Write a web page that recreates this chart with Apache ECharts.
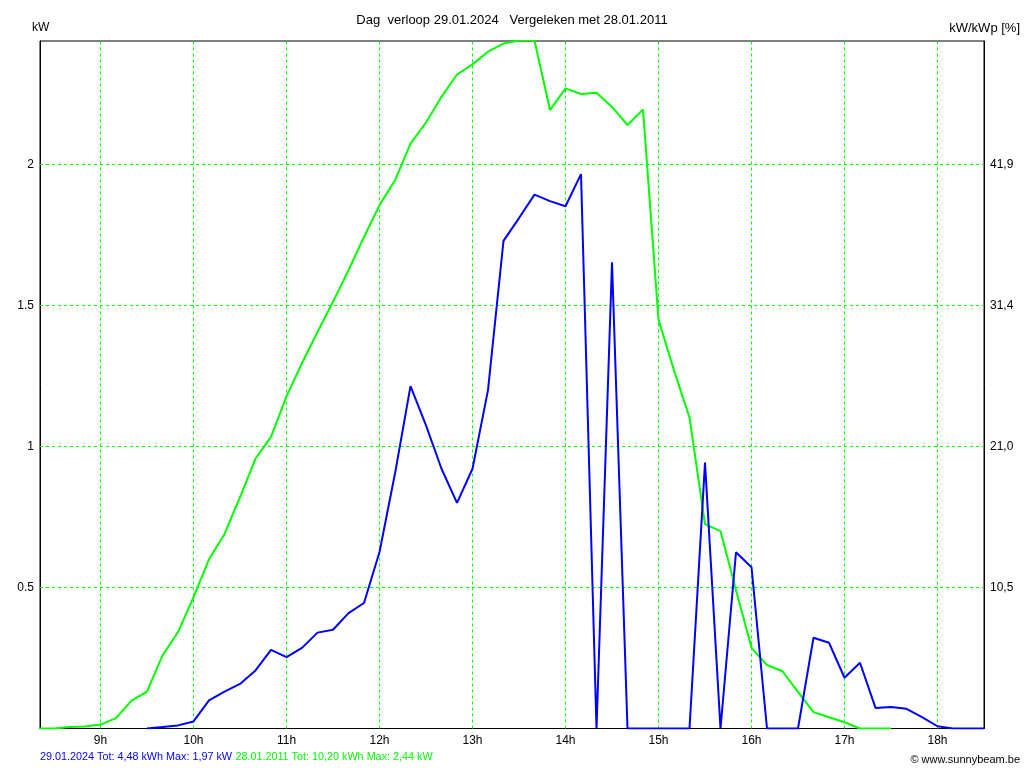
<!DOCTYPE html>
<html><head><meta charset="utf-8">
<script src="https://cdn.jsdelivr.net/npm/echarts@6/dist/echarts.min.js"></script>
<style>html,body{margin:0;padding:0;background:#fff}#c{width:1024px;height:768px}</style>
</head><body><div id="c"></div>
<script>
const hourTicks = [9, 10, 11, 12, 13, 14, 15, 16, 17, 18];
const kwTicks = [0.5, 1, 1.5, 2];
const pctLabels = ['10,5', '21,0', '31,4', '41,9'];

const greenTimes = ['8:20','8:30','8:40','8:50','9:00','9:10','9:20','9:30','9:40','9:50',
  '10:00','10:10','10:20','10:30','10:40','10:50','11:00','11:10','11:20','11:30','11:40','11:50',
  '12:00','12:10','12:20','12:30','12:40','12:50','13:00','13:10','13:20','13:30','13:40','13:50',
  '14:00','14:10','14:20','14:30','14:40','14:50','15:00','15:10','15:20','15:30','15:40','15:50',
  '16:00','16:10','16:20','16:30','16:40','16:50','17:00','17:10','17:20','17:30'];
const greenValues = [0,0,0.005,0.007,0.014,0.037,0.099,0.131,0.259,0.342,
  0.466,0.600,0.690,0.820,0.957,1.034,1.178,1.296,1.406,1.513,1.625,1.743,
  1.856,1.944,2.074,2.149,2.240,2.319,2.355,2.400,2.429,2.440,2.440,2.193,
  2.270,2.250,2.254,2.204,2.140,2.195,1.450,1.270,1.103,0.725,0.700,0.490,
  0.286,0.225,0.203,0.130,0.058,0.040,0.022,0,0,0];

const blueTimes = ['9:30','9:40','9:50',
  '10:00','10:10','10:20','10:30','10:40','10:50','11:00','11:10','11:20','11:30','11:40','11:50',
  '12:00','12:10','12:20','12:30','12:40','12:50','13:00','13:10','13:20','13:30','13:40','13:50',
  '14:00','14:10','14:20','14:30','14:40','14:50','15:00','15:10','15:20','15:30','15:40','15:50',
  '16:00','16:10','16:20','16:30','16:40','16:50','17:00','17:10','17:20','17:30','17:40','17:50',
  '18:00','18:10','18:20','18:30'];
const blueValues = [0,0.005,0.011,
  0.025,0.100,0.131,0.158,0.206,0.279,0.253,0.286,0.340,0.350,0.409,0.445,
  0.626,0.904,1.214,1.075,0.921,0.800,0.921,1.200,1.729,1.810,1.893,1.870,
  1.852,1.966,0,1.653,0,0,0,0,0,0.943,0,0.625,
  0.572,0,0,0,0.322,0.304,0.180,0.233,0.073,0.076,0.070,0.040,
  0.008,0,0,0];

const titleText = 'Dag  verloop 29.01.2024   Vergeleken met 28.01.2011';
const blueLegend = '29.01.2024 Tot: 4,48 kWh Max: 1,97 kW';
const greenLegend = '28.01.2011 Tot: 10,20 kWh Max: 2,44 kW';

function toHours(t) { const p = t.split(':'); return +p[0] + (+p[1]) / 60; }
const greenData = greenTimes.map((t, i) => [toHours(t), greenValues[i]]);
const blueData = blueTimes.map((t, i) => [toHours(t), blueValues[i]]);

const FONT = 'Liberation Sans, Arial, sans-serif';
const GRID = '#00ff00';
const gridLines = hourTicks.map(h => ({xAxis: h})).concat(kwTicks.map(v => ({yAxis: v})));

const chart = echarts.init(document.getElementById('c'), null, {renderer: 'canvas'});
chart.setOption({
  animation: false,
  backgroundColor: '#fff',
  grid: {left: 40, right: 40, top: 41, bottom: 39.5, show: true, borderColor: '#000', borderWidth: 1, backgroundColor: '#fff'},
  xAxis: {
    type: 'value', min: 8.34946, max: 18.5,
    axisLine: {show: true, lineStyle: {color: '#000', width: 1}},
    axisTick: {show: false, customValues: hourTicks},
    axisLabel: {customValues: hourTicks, formatter: v => v + 'h', color: '#000', fontFamily: FONT, fontSize: 12, margin: 6},
    splitLine: {show: false}
  },
  yAxis: [{
    type: 'value', min: 0, max: 2.4379, position: 'left',
    axisLine: {show: true, lineStyle: {color: '#000', width: 1}},
    axisTick: {show: false, customValues: kwTicks},
    axisLabel: {customValues: kwTicks, color: '#000', fontFamily: FONT, fontSize: 12, margin: 6},
    splitLine: {show: false}
  }, {
    type: 'value', min: 0, max: 2.4379, position: 'right',
    axisLine: {show: true, lineStyle: {color: '#000', width: 1}},
    axisTick: {show: false, customValues: kwTicks},
    axisLabel: {customValues: kwTicks, color: '#000', fontFamily: FONT, fontSize: 12, margin: 6,
      formatter: v => { const i = kwTicks.indexOf(v); return i >= 0 ? pctLabels[i] : ''; }},
    splitLine: {show: false}
  }],
  series: [{
    type: 'line', data: greenData, showSymbol: false, symbol: 'none', z: 3,
    lineStyle: {color: '#00ff00', width: 2}, itemStyle: {color: '#00ff00'},
    markLine: {
      silent: true, symbol: 'none', animation: false, z: 1,
      label: {show: false},
      emphasis: {disabled: true},
      lineStyle: {color: GRID, type: [3, 3], width: 1, opacity: 1},
      data: gridLines
    }
  }, {
    type: 'line', data: blueData, showSymbol: false, symbol: 'none', z: 4,
    lineStyle: {color: '#0000ff', width: 2}, itemStyle: {color: '#0000ff'}
  }],
  graphic: [
    {type: 'text', left: 'center', top: 14, style: {text: titleText, font: '13px ' + FONT, fill: '#000'}},
    {type: 'text', left: 32, top: 22, style: {text: 'kW', font: '12px ' + FONT, fill: '#000'}},
    {type: 'text', right: 4, top: 22, style: {text: 'kW/kWp [%]', font: '13px ' + FONT, fill: '#000'}},
    {type: 'text', left: 40, top: 751, style: {
      rich: {b: {fill: '#0000ff', font: '10.8px ' + FONT}, g: {fill: '#00ff00', font: '10.8px ' + FONT}},
      text: '{b|' + blueLegend + '} {g|' + greenLegend + '}'
    }},
    {type: 'text', right: 4, top: 754, style: {text: '\u00a9 www.sunnybeam.be', font: '11px ' + FONT, fill: '#000'}}
  ]
});
</script>
</body></html>
